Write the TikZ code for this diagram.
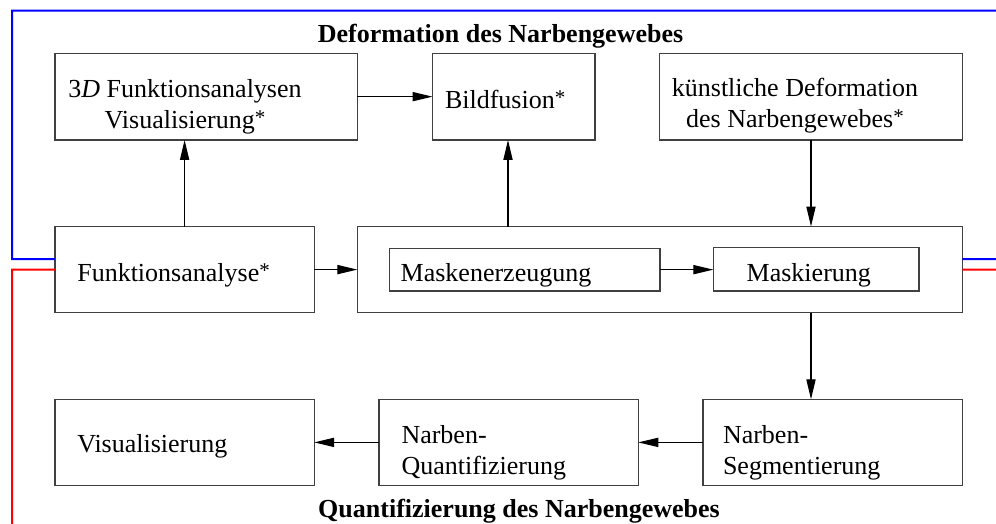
\documentclass[tikz,border=0pt]{standalone}
\usepackage{fontspec}
\setmainfont{Liberation Serif}
\usetikzlibrary{arrows.meta}
\newcommand\mybox[5]{\node[box, anchor=north west, minimum width={(#4-#2)*0.5pt}, minimum height={(#5-#3)*0.5pt}] (#1) at (#2,#3) {};}
\newcommand\myast{\raisebox{2pt}{\fontsize{10.5}{12}\selectfont *}}
\begin{document}
\begin{tikzpicture}[x=0.5pt,y=-0.5pt,
  box/.style={draw=black!75, line width=0.55pt, inner sep=0pt, outer sep=0pt},
  lbl/.style={inner sep=0pt, outer sep=0pt, font=\fontsize{13}{15.6}\selectfont},
  conn/.style={draw=black, line width=0.55pt, -{Triangle[length=10pt,width=4.6pt]}},
  ttl/.style={inner sep=0pt, outer sep=0pt, font=\fontsize{13}{15.6}\selectfont\bfseries},
  blueline/.style={draw=blue, line width=1pt},
  redline/.style={draw=red, line width=1pt}]
\useasboundingbox (0,0) rectangle (996,524);
\clip (0,0) rectangle (996,524);
% boxes
\mybox{viz3d}{55}{53.3}{357.3}{140}
\mybox{fusion}{432.5}{53.3}{595}{140}
\mybox{kuenst}{659.7}{53.3}{962.3}{140}
\mybox{funk}{55}{226.5}{314.2}{312.7}
\mybox{big}{357.3}{226.5}{962.3}{312.7}
\mybox{maskA}{389.3}{248.3}{660}{291}
\mybox{maskB}{713.3}{247.9}{919}{291}
\mybox{vis}{55}{399.3}{314.2}{485.5}
\mybox{nq}{379}{399.3}{638.3}{485.5}
\mybox{ns}{703}{399.3}{962.3}{485.5}
% labels
\node[lbl, anchor=base] (viz3dT) at (185,97.3) {\begin{tabular}[t]{@{}c@{}}3\textit{D} Funktionsanalysen\\ Visualisierung\myast\end{tabular}};
\node[lbl, anchor=base west] (fusionT) at (445,108.3) {Bildfusion\myast};
\node[lbl, anchor=base] (kuenstT) at (795,96.7) {\begin{tabular}[t]{@{}c@{}}künstliche Deformation\\ des Narbengewebes\myast\end{tabular}};
\node[lbl, anchor=base west] (funkT) at (77.3,281) {Funktionsanalyse\myast};
\node[lbl, anchor=base west] (maskAT) at (400.7,281) {Maskenerzeugung};
\node[lbl, anchor=base west] (maskBT) at (746.7,281) {Maskierung};
\node[lbl, anchor=base west] (visT) at (77.3,452.7) {Visualisierung};
\node[lbl, anchor=base west] (nqT) at (401.5,443.3) {\begin{tabular}[t]{@{}l@{}}Narben-\\ Quantifizierung\end{tabular}};
\node[lbl, anchor=base west] (nsT) at (723,443.3) {\begin{tabular}[t]{@{}l@{}}Narben-\\ Segmentierung\end{tabular}};
\node[ttl, anchor=base] (tdef) at (500.5,42.5) {Deformation des Narbengewebes};
\node[ttl, anchor=base] (tquant) at (519,517.5) {Quantifizierung des Narbengewebes};
% helper coordinates
\coordinate (cfus) at (508,0);
\coordinate (bTL) at (12,10.7);
\coordinate (bL) at (12,259);
\coordinate (bR) at (1010,259);
\coordinate (bTR) at (1010,10.7);
\coordinate (rL) at (12,269.6);
\coordinate (rB) at (12,540);
\coordinate (rR) at (1010,269.6);
% connectors
\draw[conn] (viz3d.east) -- (fusion.west);
\draw[conn] (funk.north) -- (funk.north |- viz3d.south);
\draw[conn] (big.north -| cfus) -- (fusion.south -| cfus);
\draw[conn] (kuenst.south) -- (kuenst.south |- big.north);
\draw[conn] (funk.east) -- (big.west |- funk.east);
\draw[conn] (maskA.east) -- (maskB.west |- maskA.east);
\draw[conn] (kuenst.south |- big.south) -- (kuenst.south |- ns.north);
\draw[conn] (ns.west) -- (nq.east);
\draw[conn] (nq.west) -- (vis.east);
% group frames
\draw[blueline] ([yshift=5.3pt]funk.west) -- (bL) -- (bTL) -- (bTR);
\draw[blueline] ([yshift=5.3pt]big.east) -- (bR);
\draw[redline] (funk.west) -- (rL) -- (rB);
\draw[redline] (big.east) -- (rR);
\end{tikzpicture}
\end{document}
